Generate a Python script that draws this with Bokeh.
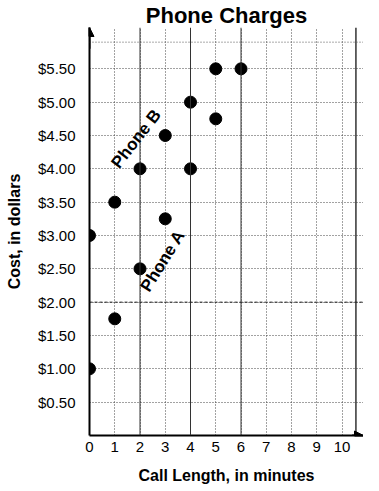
from bokeh.plotting import figure
from bokeh.models import Range1d, FixedTicker, Label, Arrow, NormalHead, Span, ColumnDataSource
from bokeh.embed import file_html
from bokeh.resources import INLINE

# Data
a_minutes = [0, 1, 2, 3, 4, 5]
a_cost = [1.00, 1.75, 2.50, 3.25, 4.00, 4.75]
b_minutes = [0, 1, 2, 3, 4, 5, 6]
b_cost = [3.00, 3.50, 4.00, 4.50, 5.00, 5.50, 5.50]
x_ticks = [0, 1, 2, 3, 4, 5, 6, 7, 8, 9, 10]
y_ticks = [0.5, 1.0, 1.5, 2.0, 2.5, 3.0, 3.5, 4.0, 4.5, 5.0, 5.5]
y_tick_labels = ["$0.50", "$1.00", "$1.50", "$2.00", "$2.50", "$3.00",
                 "$3.50", "$4.00", "$4.50", "$5.00", "$5.50"]

FONT = "Liberation Sans"

p = figure(width=363, height=486, output_backend="svg", toolbar_location=None,
           x_range=Range1d(0, 10.85), y_range=Range1d(0, 6.12),
           min_border_left=89, min_border_right=0, min_border_top=0, min_border_bottom=0,
           title="Phone Charges")
p.outline_line_color = None
p.background_fill_color = "white"

p.title.text_font = FONT
p.title.text_font_size = "22px"
p.title.text_font_style = "bold"
p.title.align = "center"
p.title.text_color = "black"
p.title.standoff = 0

# axes
p.xaxis.ticker = FixedTicker(ticks=x_ticks)
p.yaxis.ticker = FixedTicker(ticks=y_ticks)
p.yaxis.major_label_overrides = {t: l for t, l in zip(y_ticks, y_tick_labels)}
for ax in (p.xaxis, p.yaxis):
    ax.axis_line_width = 2
    ax.axis_line_color = "black"
    ax.major_tick_line_color = None
    ax.minor_tick_line_color = None
    ax.major_label_text_font = FONT
    ax.major_label_text_font_size = "15px"
    ax.major_label_text_color = "black"
    ax.axis_label_text_font = FONT
    ax.axis_label_text_font_style = "bold"
    ax.axis_label_text_font_size = "16px"
    ax.axis_label_text_color = "black"
p.xaxis.axis_label = "Call Length, in minutes"
p.yaxis.axis_label = "Cost, in dollars"
p.xaxis.major_label_standoff = 0
p.yaxis.major_label_standoff = 8
p.xaxis.axis_label_standoff = 12
p.yaxis.axis_label_standoff = 12

# grid
p.xgrid.ticker = FixedTicker(ticks=x_ticks[1:])
p.ygrid.ticker = FixedTicker(ticks=y_ticks)
for g in (p.xgrid, p.ygrid):
    g.grid_line_color = "#444444"
    g.grid_line_dash = "1 2"
    g.grid_line_width = 1

for xv in [2, 4, 6]:
    p.add_layout(Span(location=xv, dimension="height", line_color="#333333", line_width=1))
p.add_layout(Span(location=10.55, dimension="height", line_color="#333333", line_width=1.5))
p.add_layout(Span(location=5.9, dimension="width", line_color="#555555", line_width=1, line_dash="1 2"))
p.add_layout(Span(location=2.0, dimension="width", line_color="#222222", line_width=1, line_dash="3 2"))

# arrows on axes
p.add_layout(Arrow(end=NormalHead(size=9, fill_color="black", line_color="black"),
                   x_start=0, y_start=5.8, x_end=0, y_end=6.12, line_width=2))
p.add_layout(Arrow(end=NormalHead(size=9, fill_color="black", line_color="black"),
                   x_start=10.4, y_start=0, x_end=10.85, y_end=0, line_width=2))

# points
src_a = ColumnDataSource(dict(x=a_minutes, y=a_cost))
src_b = ColumnDataSource(dict(x=b_minutes, y=b_cost))
p.scatter("x", "y", source=src_a, size=12, color="black")
p.scatter("x", "y", source=src_b, size=12, color="black")

p.add_layout(Label(x=1.85, y=4.45, text="Phone B", angle=52, angle_units="deg",
                   text_font=FONT, text_font_style="bold", text_font_size="17px",
                   text_color="black", text_align="center", text_baseline="middle"))
p.add_layout(Label(x=2.9, y=2.62, text="Phone A", angle=58, angle_units="deg",
                   text_font=FONT, text_font_style="bold", text_font_size="17px",
                   text_color="black", text_align="center", text_baseline="middle"))

open("out.html", "w").write(file_html(p, INLINE))
